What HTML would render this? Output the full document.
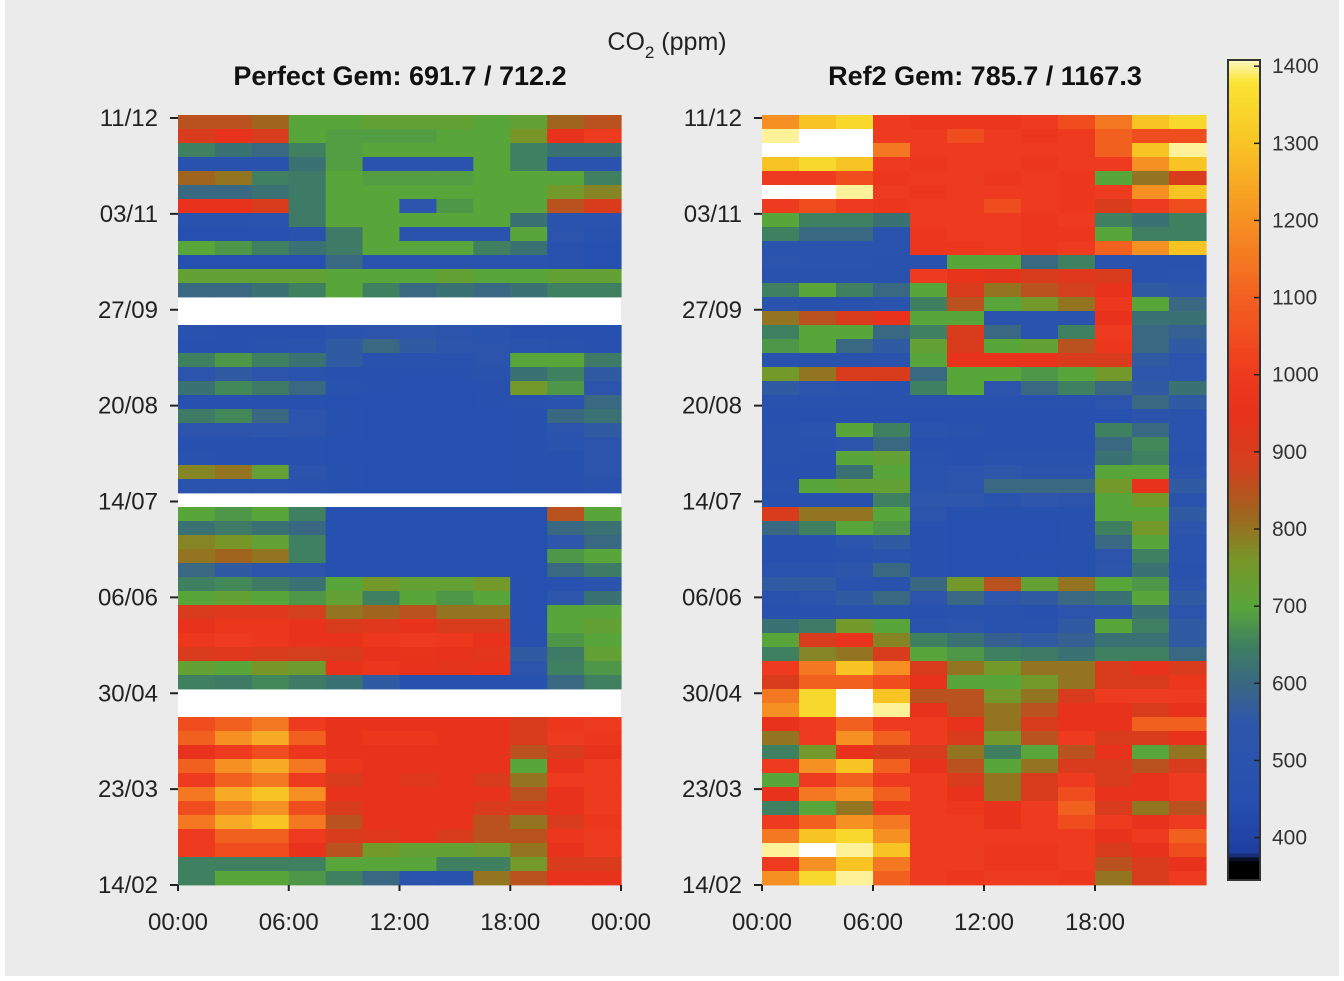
<!DOCTYPE html>
<html><head><meta charset="utf-8">
<style>
body{margin:0;background:#fff;}
#wrap{position:relative;width:1344px;height:981px;overflow:hidden;background:#fff;}
svg text{font-family:"Liberation Sans",Arial,sans-serif;}
</style></head>
<body>
<div id="wrap">
<svg id="svg" width="1344" height="981">
<rect x="5" y="0" width="1334" height="976" fill="#ebebeb"/>
<text x="667" y="50" font-size="25" text-anchor="middle" fill="#222">CO<tspan font-size="17" dy="8">2</tspan><tspan dy="-8"> (ppm)</tspan></text>
<text x="400" y="85" font-size="27" font-weight="bold" text-anchor="middle" fill="#111">Perfect Gem: 691.7 / 712.2</text>
<text x="985" y="85" font-size="27" font-weight="bold" text-anchor="middle" fill="#111">Ref2 Gem: 785.7 / 1167.3</text>
<g id="left"></g>
<g id="right"></g>
<g id="cbar"></g>
</svg>
</div>
<script>
const dateLabels=["11/12","03/11","27/09","20/08","14/07","06/06","30/04","23/03","14/02"];
const timeLabelsLeft=["00:00","06:00","12:00","18:00","00:00"];
const timeLabelsRight=["00:00","06:00","12:00","18:00"];
const cbarTicks=[1400,1300,1200,1100,1000,900,800,700,600,500,400];
const N=null;
const leftValues=[
[850,850,820,700,700,720,720,720,700,720,820,850],
[900,950,900,700,690,690,690,700,700,760,950,1000],
[650,620,600,650,690,700,700,700,700,650,620,620],
[480,480,480,620,690,500,500,500,700,650,500,500],
[820,800,650,640,700,690,690,690,700,700,700,650],
[600,600,620,640,700,700,700,700,700,700,750,780],
[950,950,900,640,700,700,520,680,700,700,850,900],
[480,480,500,640,700,700,700,700,700,620,500,500],
[450,450,450,480,640,700,500,500,500,700,520,480],
[700,680,650,620,640,700,700,700,650,620,480,450],
[450,450,450,450,600,500,500,500,500,500,480,450],
[720,720,720,720,700,700,700,720,700,700,720,720],
[600,600,620,650,700,650,600,620,600,620,650,650],
[N,N,N,N,N,N,N,N,N,N,N,N],
[N,N,N,N,N,N,N,N,N,N,N,N],
[480,470,470,470,500,520,550,520,500,470,460,460],
[470,470,480,500,560,600,560,540,520,500,480,470],
[650,680,650,620,560,480,480,480,520,700,700,640],
[520,560,540,500,470,460,460,460,480,620,650,560],
[620,660,640,600,480,460,450,450,470,750,680,520],
[460,470,470,460,450,450,450,450,460,480,500,600],
[640,660,600,520,460,450,450,450,450,460,600,620],
[520,520,540,520,470,450,450,450,450,460,520,560],
[460,460,470,460,450,450,450,450,450,460,500,520],
[480,470,470,460,450,450,450,450,450,460,470,520],
[780,800,720,520,460,450,450,450,450,460,470,520],
[500,500,500,480,460,450,450,450,450,460,470,480],
[N,N,N,N,N,N,N,N,N,N,N,N],
[700,680,700,650,450,450,450,450,450,450,850,700],
[620,640,620,600,450,450,450,450,450,450,600,620],
[780,760,720,650,450,450,450,450,450,450,550,600],
[800,820,800,650,450,450,450,450,450,450,680,700],
[600,560,540,520,450,450,450,450,450,450,600,640],
[650,660,640,620,700,750,720,720,750,450,460,500],
[700,720,700,680,720,650,700,680,700,450,550,620],
[900,920,920,880,800,820,850,800,800,450,700,700],
[950,980,980,950,900,920,950,900,900,460,700,720],
[980,1000,980,950,950,980,1000,980,950,470,680,700],
[900,920,900,880,900,950,960,950,930,560,640,720],
[720,700,760,740,950,980,950,940,950,520,650,680],
[650,640,660,640,620,560,460,460,460,460,600,650],
[N,N,N,N,N,N,N,N,N,N,N,N],
[N,N,N,N,N,N,N,N,N,N,N,N],
[1050,1100,1150,1000,950,950,950,950,950,900,980,1000],
[1100,1200,1250,1100,950,980,980,950,950,900,1000,980],
[950,1000,1050,980,950,950,950,950,950,850,900,950],
[1100,1200,1250,1150,980,950,950,950,950,700,950,1000],
[1000,1100,1150,1000,900,950,920,950,900,800,1000,1000],
[1150,1250,1300,1200,950,950,950,950,950,850,950,1000],
[1050,1150,1200,1050,900,950,950,950,900,900,950,1000],
[1150,1250,1300,1150,850,950,950,950,850,800,900,980],
[1000,1100,1100,1000,900,920,950,900,850,850,980,1000],
[1000,1050,1050,950,850,750,720,720,740,800,950,1000],
[650,650,650,650,700,700,700,650,650,750,900,900],
[650,700,700,680,650,600,500,480,800,850,950,950]
];
const rightValues=[
[1200,1300,1350,1000,980,980,980,1000,1050,1150,1300,1350],
[1400,1420,1420,1000,1000,1050,1000,980,1000,1100,1050,1050],
[1420,1420,1420,1150,1000,1000,1000,1000,1000,1100,1300,1400],
[1300,1350,1300,1000,980,1000,1000,980,1000,1000,1200,1300],
[1000,1000,1050,980,1000,1000,980,1000,980,700,800,900],
[1420,1420,1400,1000,980,1000,1000,1000,980,1000,1200,1300],
[1000,1050,1000,980,1000,1000,1050,1000,980,900,1000,1050],
[700,650,650,620,1000,1000,1000,980,1000,650,620,650],
[650,600,600,500,980,1000,1000,980,980,700,650,650],
[500,500,500,500,980,980,1000,980,1000,1100,1200,1300],
[520,500,500,480,480,700,700,600,650,500,480,480],
[480,480,480,480,1000,960,940,900,920,900,480,500],
[650,700,650,600,700,900,800,850,880,950,560,550],
[500,480,480,500,650,850,700,750,800,980,700,600],
[800,850,900,950,700,700,500,500,500,950,620,620],
[650,700,700,600,650,900,600,500,650,1000,600,580],
[680,700,600,560,720,900,700,720,850,980,600,560],
[480,480,480,500,700,950,950,950,900,900,560,520],
[750,800,900,900,600,700,700,680,700,750,550,520],
[560,520,500,480,650,700,520,600,650,600,560,620],
[480,480,480,480,480,480,480,480,480,520,600,560],
[460,460,460,460,460,460,460,460,460,460,520,500],
[480,500,700,650,500,480,470,470,470,650,600,500],
[480,480,520,600,470,470,470,470,470,600,660,500],
[480,470,700,720,480,470,480,480,480,620,650,480],
[460,460,620,700,500,520,550,520,520,700,700,520],
[480,700,720,720,500,520,600,600,600,750,950,560],
[460,460,460,650,550,550,500,550,520,700,750,500],
[900,800,800,700,520,460,460,460,460,700,700,560],
[600,650,700,680,460,450,450,450,470,650,750,540],
[460,460,520,560,460,450,450,450,460,600,700,500],
[470,470,480,500,460,450,450,460,460,520,650,500],
[500,500,540,600,460,450,450,450,460,540,620,480],
[560,560,500,480,600,750,850,720,800,700,680,520],
[480,520,560,600,520,600,550,560,600,620,700,560],
[470,470,480,480,460,480,480,460,520,540,620,520],
[620,640,750,700,500,520,480,480,560,700,650,560],
[700,900,950,780,650,620,580,560,580,620,620,560],
[650,780,800,900,700,680,650,640,620,650,650,600],
[1000,1150,1300,1200,900,800,750,800,800,900,950,900],
[900,1100,1100,1050,950,700,700,750,800,900,900,980],
[1150,1350,1420,1300,850,850,750,800,900,1000,1000,1000],
[1200,1350,1420,1400,950,850,800,850,950,950,900,950],
[950,1000,1100,1000,1000,950,800,900,950,950,1100,1100],
[800,1000,1200,1100,1000,900,750,850,1000,900,900,950],
[650,750,950,900,900,800,650,700,850,950,700,800],
[1000,1200,1300,1100,950,850,700,800,900,900,850,900],
[700,1000,1100,1000,1000,900,800,900,1000,900,950,1000],
[950,1150,1200,1100,1000,950,800,900,1050,950,950,1000],
[650,700,800,1000,1000,980,950,1000,1100,900,800,850],
[1000,1100,1200,1150,1000,1000,950,1000,1050,1000,950,1000],
[1150,1300,1350,1200,1000,1000,1000,1000,1000,950,1000,1100],
[1400,1420,1400,1300,1000,1000,980,980,1000,900,950,1050],
[1000,1200,1300,1150,1000,1000,980,980,1000,850,900,950],
[1200,1350,1400,1100,1000,980,1000,1000,980,800,900,1000]
];

const NS="http://www.w3.org/2000/svg";
function mk(tag,attrs,parent){const e=document.createElementNS(NS,tag);for(const k in attrs)e.setAttribute(k,attrs[k]);parent.appendChild(e);return e;}
const stops=[[340,[0,0,0]],[370,[0,0,0]],[380,[30,62,160]],[450,[38,80,176]],[550,[46,86,170]],[600,[56,104,130]],[650,[62,128,96]],[700,[88,166,58]],[760,[120,150,40]],[820,[160,100,30]],[880,[210,64,30]],[950,[232,50,28]],[1000,[238,58,30]],[1100,[242,96,32]],[1200,[246,144,34]],[1300,[248,196,36]],[1380,[250,228,50]],[1420,[255,255,255]]];
function cmap(v){
  if(v<=stops[0][0])return 'rgb(0,0,0)';
  for(let i=1;i<stops.length;i++){if(v<=stops[i][0]){const a=stops[i-1],b=stops[i];const t=(v-a[0])/(b[0]-a[0]);const c=a[1].map((x,j)=>Math.round(x+(b[1][j]-x)*t));return 'rgb('+c.join(',')+')';}}
  return 'rgb(255,255,255)';
}
const plotTop=115,plotBottom=885;
function yRow(i,n){return plotTop+(plotBottom-plotTop)*i/n;}
function xCol(x0,w,j,n){return x0+w*j/n;}
function yDate(i){return 118+(885-118)*i/(dateLabels.length-1);}

function panel(g,x0,w,values,timeLabels,nTicks){
  const nr=values.length;
  mk('rect',{x:x0,y:plotTop,width:w,height:plotBottom-plotTop,fill:'#ffffff'},g);
  values.forEach((row,i)=>{
    const nc=row.length;
    row.forEach((v,j)=>{
      if(v===null)return;
      const y=yRow(i,nr),y2=yRow(i+1,nr),x=xCol(x0,w,j,nc),x2=xCol(x0,w,j+1,nc);
      const r=mk('rect',{x:x.toFixed(2),y:y.toFixed(2),width:(x2-x+0.6).toFixed(2),height:(y2-y+0.4).toFixed(2),fill:cmap(v)},g);
      
      
    });
  });
  dateLabels.forEach((d,i)=>{
    const y=yDate(i);
    const t=mk('line',{x1:x0-8,x2:x0,y1:y,y2:y,stroke:'#222','stroke-width':2},g);
    
    
    const l=mk('text',{x:x0-20,y:y+8,'font-size':24,'text-anchor':'end',fill:'#222'},g);
    l.textContent=d;
    
    
  });
  timeLabels.forEach((s,i)=>{
    const x=x0+w*i/(nTicks-1);
    const t=mk('line',{x1:x,x2:x,y1:885,y2:891,stroke:'#222','stroke-width':2},g);
    
    
    const l=mk('text',{x:x,y:930,'font-size':24,'text-anchor':'middle',fill:'#222'},g);
    l.textContent=s;
    
    
  });
}
panel(document.getElementById('left'),178,443,leftValues,timeLabelsLeft,5);
panel(document.getElementById('right'),762,444,rightValues,timeLabelsRight,5);

const cb=document.getElementById('cbar');
const cbX=1228,cbW=32,cbTop=60,cbBot=880,vTop=1408,vBot=345;
function yC(v){return cbBot-(v-vBot)/(vTop-vBot)*(cbBot-cbTop);}
for(let v=vBot;v<vTop;v+=5){
  const r=mk('rect',{x:cbX,y:yC(v+5).toFixed(2),width:cbW,height:(yC(v)-yC(v+5)+0.5).toFixed(2),fill:cmap(v+2.5)},cb);
  
  
}
mk('rect',{x:cbX,y:cbTop,width:cbW,height:cbBot-cbTop,fill:'none',stroke:'#333','stroke-width':2},cb);
cbarTicks.forEach(v=>{
  const y=yC(v);
  const t=mk('line',{x1:cbX+cbW-6,x2:cbX+cbW,y1:y,y2:y,stroke:'#222','stroke-width':1.5},cb);
  
  
  const l=mk('text',{x:1272,y:y+7,'font-size':21,fill:'#333'},cb);
  l.textContent=v;
  
  
});
</script>
</body></html>
